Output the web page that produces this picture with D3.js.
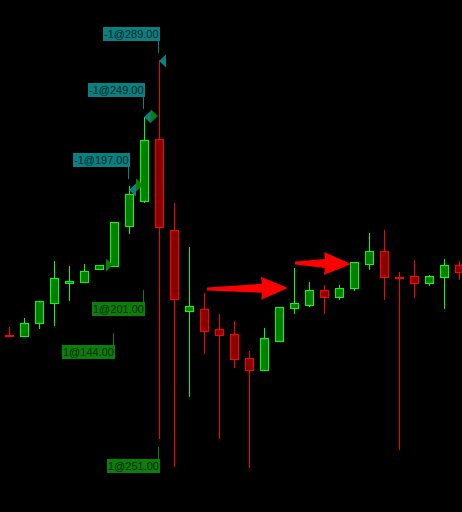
<!DOCTYPE html>
<html>
<head>
<meta charset="utf-8">
<script src="https://cdn.jsdelivr.net/npm/d3@7/dist/d3.min.js"></script>
<style>
html,body{margin:0;padding:0;background:#000;}
svg{display:block;}
</style>
</head>
<body>
<div id="chart"></div>
<script>
// ---- data (prices) ----
const opens  = [177,176,189,209,229,230,243,246,286,311,373,282,201,203,183,178,154,142,171,204,207,222,215,224,248,261,235,236,229,235,247];
const highs  = [185,194,211,251,246,248,247,290,326,395,452,309,265,219,198,191,161,184,205,244,230,227,227,250,279,282,240,252,237,253,251];
const lows   = [176,176,184,187,212,230,243,246,279,310, 74, 46,116,159, 74,145, 45,142,171,199,206,199,213,222,243,213, 63,215,227,204,233];
const closes = [176,189,211,234,231,241,247,290,318,372,285,213,206,181,177,153,142,174,205,209,222,215,224,250,261,235,234,229,236,247,240];

// execution markers
const sellMarkerBars   = [10, 9, 8];
const sellMarkerPrices = [451, 395, 322];
const buyMarkerBars    = [10, 9, 7];
const buyMarkerPrices  = [396, 327, 247];

// order labels
const sellLabels      = ["-1@289.00", "-1@249.00", "-1@197.00"];
const sellLabelBars   = [10, 9, 8];
const sellLabelPrices = [459, 403, 333];
const buyLabels       = ["1@201.00", "1@144.00", "1@251.00"];
const buyLabelBars    = [9, 7, 10];
const buyLabelPrices  = [222, 179, 65];

// drawn arrows: [tailBar, tailPrice, tipBar, tipPrice]
const arrowTailBars   = [13.2, 19.07];
const arrowTailPrices = [223, 249];
const arrowTipBars    = [18.6, 22.8];
const arrowTipPrices  = [224, 248];

// ---- chart ----
const W = 462, H = 512;
const svg = d3.select("#chart").append("svg").attr("width", W).attr("height", H)
  .style("background", "#000");

const x = d3.scaleLinear().domain([0, 30]).range([9, 459]);
const y = d3.scaleLinear().domain([0, 512]).range([512, 0]);

const bars = opens.map((o, i) => ({i, o, h: highs[i], l: lows[i], c: closes[i], up: closes[i] >= opens[i]}));

const GREEN = "#00ff00", GREEN_FILL = "#008000", RED = "#ff0000", RED_FILL = "#8a0000";
const TEAL = "#0a8080", LBL_GREEN = "#0a800a";

// wicks
svg.append("g").selectAll("line").data(bars).join("line")
  .attr("x1", d => Math.round(x(d.i)) + 0.5).attr("x2", d => Math.round(x(d.i)) + 0.5)
  .attr("y1", d => Math.round(y(d.h))).attr("y2", d => Math.round(y(d.l)) + 1)
  .attr("stroke", d => d.up ? GREEN : RED).attr("stroke-width", 1)
  .attr("shape-rendering", "crispEdges");

// bodies
svg.append("g").selectAll("rect").data(bars).join("rect")
  .attr("x", d => Math.round(x(d.i)) - 4 + 0.5)
  .attr("width", 8)
  .attr("y", d => Math.round(y(Math.max(d.o, d.c))) + 0.5)
  .attr("height", d => Math.max(1, Math.round(y(Math.min(d.o, d.c))) - Math.round(y(Math.max(d.o, d.c)))))
  .attr("fill", d => d.up ? GREEN_FILL : RED_FILL)
  .attr("stroke", d => d.up ? GREEN : RED).attr("stroke-width", 1);

// arrows
const arrows = arrowTailBars.map((b, k) => ({
  x0: x(b), y0: y(arrowTailPrices[k]), x1: x(arrowTipBars[k]), y1: y(arrowTipPrices[k])
}));
function arrowPath(a) {
  const dx = a.x1 - a.x0, dy = a.y1 - a.y0, L = Math.hypot(dx, dy);
  const ux = dx / L, uy = dy / L, nx = -uy, ny = ux;
  const head = 26, hw = 11.5, sw = 4.5, tw = 1.5;
  const P = (s, t) => [a.x0 + ux * s + nx * t, a.y0 + uy * s + ny * t];
  const pts = [P(0, -tw), P(L - head, -sw), P(L - head - 1, -hw), P(L, 0), P(L - head - 1, hw), P(L - head, sw), P(0, tw)];
  return d3.line()(pts) + "Z";
}
svg.append("g").selectAll("path").data(arrows).join("path")
  .attr("d", arrowPath).attr("fill", "#ff0000");

// markers
const sellMarkers = sellMarkerBars.map((b, k) => ({tx: x(b), ty: y(sellMarkerPrices[k])}));
const buyMarkers = buyMarkerBars.map((b, k) => ({tx: x(b) - 1, ty: y(buyMarkerPrices[k])}));
svg.append("g").selectAll("path").data(sellMarkers).join("path")
  .attr("d", d => d3.line()([[d.tx, d.ty], [d.tx + 7, d.ty - 6.5], [d.tx + 7, d.ty + 6.5]]) + "Z")
  .attr("fill", TEAL);
svg.append("g").selectAll("path").data(buyMarkers).join("path")
  .attr("d", d => d3.line()([[d.tx, d.ty], [d.tx - 7, d.ty - 6.5], [d.tx - 7, d.ty + 6.5]]) + "Z")
  .attr("fill", LBL_GREEN);

// labels
function drawLabel(text, bar, price, isSell) {
  const ax = Math.round(x(bar)) - 1;
  const ay = Math.round(y(price));
  const g = svg.append("g");
  const t = g.append("text").text(text)
    .attr("font-family", "'Liberation Sans', Arial, sans-serif")
    .attr("font-size", 11)
    .attr("fill", isSell ? "#062424" : "#062406");
  const w = Math.ceil(t.node().getComputedTextLength()) + 2;
  const bh = 14;
  const right = ax + 2;
  const left = right - w;
  let top, lineY1, lineY2;
  if (isSell) { top = ay - 12 - bh; lineY1 = top + bh; lineY2 = ay; }
  else { top = ay + 12; lineY1 = ay; lineY2 = top; }
  g.insert("rect", "text").attr("x", left).attr("y", top).attr("width", w).attr("height", bh)
    .attr("fill", isSell ? TEAL : LBL_GREEN);
  t.attr("x", left + 1).attr("y", top + 11);
  g.append("line").attr("x1", ax + 0.5).attr("x2", ax + 0.5).attr("y1", lineY1).attr("y2", lineY2)
    .attr("stroke", isSell ? TEAL : LBL_GREEN).attr("stroke-width", 1).attr("shape-rendering", "crispEdges");
}
sellLabels.forEach((s, k) => drawLabel(s, sellLabelBars[k], sellLabelPrices[k], true));
buyLabels.forEach((s, k) => drawLabel(s, buyLabelBars[k], buyLabelPrices[k], false));
</script>
</body>
</html>
